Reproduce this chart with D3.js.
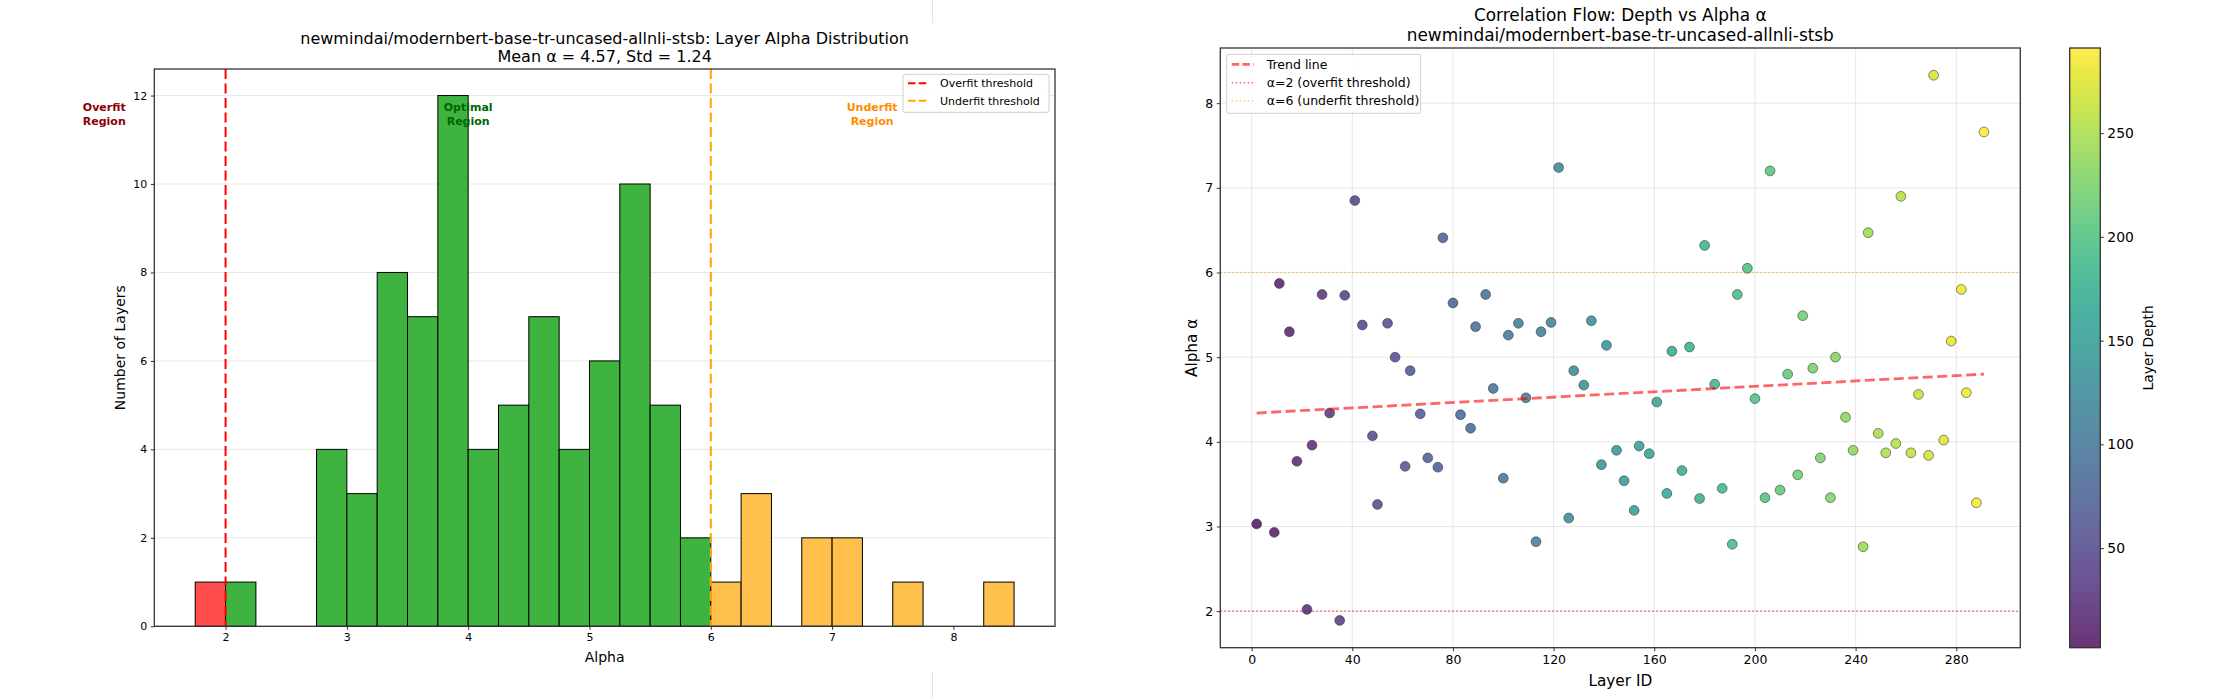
<!DOCTYPE html>
<html>
<head>
<meta charset="utf-8">
<script src="https://cdn.jsdelivr.net/npm/d3@7"></script>
<style>
  body { margin: 0; background: #fff; }
  text { font-family: "DejaVu Sans", sans-serif; fill: #000; }
</style>
</head>
<body>
<svg id="chart" width="2232" height="699"></svg>
<script>
// ---- histogram data (bin lower edges, width 0.25) ----
const binStarts = [1.75, 2.0, 2.25, 2.5, 2.75, 3.0, 3.25, 3.5, 3.75, 4.0, 4.25, 4.5, 4.75,
                   5.0, 5.25, 5.5, 5.75, 6.0, 6.25, 6.5, 6.75, 7.0, 7.25, 7.5, 7.75, 8.0, 8.25];
const binCounts = [1, 1, 0, 0, 4, 3, 8, 7, 12, 4, 5, 7, 4,
                   6, 10, 5, 2, 1, 3, 0, 2, 2, 0, 1, 0, 0, 1];
const binWidth = 0.25;
const alphaTicks = [2, 3, 4, 5, 6, 7, 8];
const countTicks = [0, 2, 4, 6, 8, 10, 12];

// ---- scatter data: layer id vs alpha ----
const layerIds = [2, 9, 11, 15, 18, 22, 24, 28, 31, 35, 37, 41, 44, 48, 50, 54, 57, 61, 63, 67,
                  70, 74, 76, 80, 83, 87, 89, 93, 96, 100, 102, 106, 109, 113, 115, 119, 122, 126, 128, 132,
                  135, 139, 141, 145, 148, 152, 154, 158, 161, 165, 167, 171, 174, 178, 180, 184, 187, 191, 193, 197,
                  200, 204, 206, 210, 213, 217, 219, 223, 226, 230, 232, 236, 239, 243, 245, 249, 252, 256, 258, 262,
                  265, 269, 271, 275, 278, 282, 284, 288, 291];
const layerAlphas = [3.03, 2.93, 5.87, 5.30, 3.77, 2.02, 3.96, 5.74, 4.34, 1.89, 5.73, 6.85, 5.38, 4.07, 3.26, 5.40, 5.00, 3.71, 4.84, 4.33,
                     3.81, 3.70, 6.41, 5.64, 4.32, 4.16, 5.36, 5.74, 4.63, 3.57, 5.26, 5.40, 4.52, 2.82, 5.30, 5.41, 7.24, 3.10, 4.84, 4.67,
                     5.43, 3.73, 5.14, 3.90, 3.54, 3.19, 3.95, 3.86, 4.47, 3.39, 5.07, 3.66, 5.12, 3.33, 6.32, 4.68, 3.45, 2.79, 5.74, 6.05,
                     4.51, 3.34, 7.20, 3.43, 4.80, 3.61, 5.49, 4.87, 3.81, 3.34, 5.00, 4.29, 3.90, 2.76, 6.47, 4.10, 3.87, 3.98, 6.90, 3.87,
                     4.56, 3.84, 8.33, 4.02, 5.19, 5.80, 4.58, 3.28, 7.66];
const trendX = [2, 291];
const trendY = [4.34, 4.80];
const layerTicks = [0, 40, 80, 120, 160, 200, 240, 280];
const alphaTicksR = [2, 3, 4, 5, 6, 7, 8];
const depthTicks = [50, 100, 150, 200, 250];

const svg = d3.select("#chart");
svg.append("rect").attr("width", 2232).attr("height", 699).attr("fill", "#fff");

// faint page separator
svg.append("line").attr("x1", 932.5).attr("x2", 932.5).attr("y1", 0).attr("y2", 23)
  .attr("stroke", "#e4e4e4");
svg.append("line").attr("x1", 932.5).attr("x2", 932.5).attr("y1", 672).attr("y2", 699)
  .attr("stroke", "#e4e4e4");

const spine = "#333";

// ================= LEFT: histogram =================
const L = { x0: 154.3, x1: 1055, y0: 69, y1: 626.3 };
const hx = d3.scaleLinear().domain([1.4125, 8.8375]).range([L.x0, L.x1]);
const hy = d3.scaleLinear().domain([0, 12.6]).range([L.y1, L.y0]);

const left = svg.append("g");

// y grid
left.selectAll("line.grid").data(countTicks).enter().append("line")
  .attr("x1", L.x0).attr("x2", L.x1)
  .attr("y1", d => hy(d)).attr("y2", d => hy(d))
  .attr("stroke", "#b0b0b0").attr("stroke-opacity", 0.3).attr("stroke-width", 1);

const bins = binStarts.map((s, i) => ({ start: s, count: binCounts[i] }));
const binColor = d => d.start < 2 ? "#ff4d4d" : (d.start >= 6 ? "#ffc04d" : "#3fb33f");

left.selectAll("rect.bar").data(bins.filter(d => d.count > 0)).enter().append("rect")
  .attr("x", d => hx(d.start))
  .attr("width", d => hx(d.start + binWidth) - hx(d.start))
  .attr("y", d => hy(d.count))
  .attr("height", d => hy(0) - hy(d.count))
  .attr("fill", binColor)
  .attr("stroke", "#000").attr("stroke-width", 1);

// threshold lines
left.append("line").attr("x1", hx(2)).attr("x2", hx(2)).attr("y1", L.y0).attr("y2", L.y1)
  .attr("stroke", "#ff0000").attr("stroke-width", 2).attr("stroke-dasharray", "10,4.5");
left.append("line").attr("x1", hx(6)).attr("x2", hx(6)).attr("y1", L.y0).attr("y2", L.y1)
  .attr("stroke", "#ffa500").attr("stroke-width", 2).attr("stroke-dasharray", "10,4.5");

// spines
left.append("rect").attr("x", L.x0).attr("y", L.y0)
  .attr("width", L.x1 - L.x0).attr("height", L.y1 - L.y0)
  .attr("fill", "none").attr("stroke", spine).attr("stroke-width", 1.3);

// axes
const hxAxis = left.append("g").attr("transform", `translate(0,${L.y1})`)
  .call(d3.axisBottom(hx).tickValues(alphaTicks).tickFormat(d3.format("d")).tickSize(3.5).tickPadding(3.5));
const hyAxis = left.append("g").attr("transform", `translate(${L.x0},0)`)
  .call(d3.axisLeft(hy).tickValues(countTicks).tickFormat(d3.format("d")).tickSize(3.5).tickPadding(3.5));
[hxAxis, hyAxis].forEach(a => {
  a.select(".domain").remove();
  a.selectAll("line").attr("stroke", spine);
  a.selectAll("text").style("font-size", "11px").style("font-family", "DejaVu Sans").attr("fill", "#000");
});

// region labels
const regions = [
  { x: 1.0, label: ["Overfit", "Region"], color: "#8b0000" },
  { x: 4.0, label: ["Optimal", "Region"], color: "#006400" },
  { x: 7.33, label: ["Underfit", "Region"], color: "#ff8c00" }
];
regions.forEach(r => {
  const t = left.append("text").attr("x", hx(r.x)).attr("y", hy(11.58) - 6.5)
    .attr("text-anchor", "middle").style("font-size", "11px").style("font-weight", "bold")
    .style("fill", r.color);
  r.label.forEach((s, i) => t.append("tspan").attr("x", hx(r.x)).attr("dy", i === 0 ? "0.35em" : 13.3).text(s));
});

// titles and labels
left.append("text").attr("x", (L.x0 + L.x1) / 2).attr("y", 44).attr("text-anchor", "middle")
  .style("font-size", "16px").text("newmindai/modernbert-base-tr-uncased-allnli-stsb: Layer Alpha Distribution");
left.append("text").attr("x", (L.x0 + L.x1) / 2).attr("y", 62).attr("text-anchor", "middle")
  .style("font-size", "16px").text("Mean α = 4.57, Std = 1.24");
left.append("text").attr("x", (L.x0 + L.x1) / 2).attr("y", 661.5).attr("text-anchor", "middle")
  .style("font-size", "14px").text("Alpha");
left.append("text").attr("transform", `translate(125,${(L.y0 + L.y1) / 2}) rotate(-90)`)
  .attr("text-anchor", "middle").style("font-size", "14px").text("Number of Layers");

// legend
const lg = left.append("g").attr("transform", "translate(903,74.3)");
lg.append("rect").attr("width", 146).attr("height", 38).attr("rx", 2)
  .attr("fill", "#fff").attr("fill-opacity", 0.8).attr("stroke", "#d0d0d0");
[{ c: "#ff0000", t: "Overfit threshold" }, { c: "#ffa500", t: "Underfit threshold" }].forEach((e, i) => {
  const y = 9 + i * 17.4;
  lg.append("line").attr("x1", 5).attr("x2", 26).attr("y1", y).attr("y2", y)
    .attr("stroke", e.c).attr("stroke-width", 2).attr("stroke-dasharray", "7.5,3.2");
  lg.append("text").attr("x", 37).attr("y", y).attr("dy", "0.35em").style("font-size", "11px").text(e.t);
});

// ================= RIGHT: scatter =================
const R = { x0: 1220.3, x1: 2020.3, y0: 48, y1: 647.7 };
const sx = d3.scaleLinear().domain([-12.45, 305.45]).range([R.x0, R.x1]);
const sy = d3.scaleLinear().domain([1.568, 8.652]).range([R.y1, R.y0]);
const color = d3.scaleSequential(d3.interpolateViridis).domain([2, 291]);

const right = svg.append("g");

right.selectAll("line.gx").data(layerTicks).enter().append("line")
  .attr("x1", d => sx(d)).attr("x2", d => sx(d)).attr("y1", R.y0).attr("y2", R.y1)
  .attr("stroke", "#b0b0b0").attr("stroke-opacity", 0.3);
right.selectAll("line.gy").data(alphaTicksR).enter().append("line")
  .attr("x1", R.x0).attr("x2", R.x1).attr("y1", d => sy(d)).attr("y2", d => sy(d))
  .attr("stroke", "#b0b0b0").attr("stroke-opacity", 0.3);

// threshold lines
right.append("line").attr("x1", R.x0).attr("x2", R.x1).attr("y1", sy(2)).attr("y2", sy(2))
  .attr("stroke", "#ff0000").attr("stroke-opacity", 0.6).attr("stroke-width", 1.5).attr("stroke-dasharray", "1.5,2.5");
right.append("line").attr("x1", R.x0).attr("x2", R.x1).attr("y1", sy(6)).attr("y2", sy(6))
  .attr("stroke", "#ffa500").attr("stroke-opacity", 0.6).attr("stroke-width", 1.5).attr("stroke-dasharray", "1.5,2.5");

const points = layerIds.map((id, i) => ({ id, a: layerAlphas[i] }));
right.selectAll("circle").data(points).enter().append("circle")
  .attr("cx", d => sx(d.id)).attr("cy", d => sy(d.a)).attr("r", 4.9)
  .attr("fill", d => color(d.id)).attr("fill-opacity", 0.8)
  .attr("stroke", "#333").attr("stroke-opacity", 0.8).attr("stroke-width", 0.7);

// trend line
right.append("line")
  .attr("x1", sx(trendX[0])).attr("y1", sy(trendY[0]))
  .attr("x2", sx(trendX[1])).attr("y2", sy(trendY[1]))
  .attr("stroke", "#ff0000").attr("stroke-opacity", 0.6).attr("stroke-width", 2.8)
  .attr("stroke-dasharray", "10,4.5");

right.append("rect").attr("x", R.x0).attr("y", R.y0)
  .attr("width", R.x1 - R.x0).attr("height", R.y1 - R.y0)
  .attr("fill", "none").attr("stroke", spine).attr("stroke-width", 1.3);

const sxAxis = right.append("g").attr("transform", `translate(0,${R.y1})`)
  .call(d3.axisBottom(sx).tickValues(layerTicks).tickSize(3.5).tickPadding(3.5));
const syAxis = right.append("g").attr("transform", `translate(${R.x0},0)`)
  .call(d3.axisLeft(sy).tickValues(alphaTicksR).tickFormat(d3.format("d")).tickSize(3.5).tickPadding(3.5));
[sxAxis, syAxis].forEach(a => {
  a.select(".domain").remove();
  a.selectAll("line").attr("stroke", spine);
  a.selectAll("text").style("font-size", "12.5px").style("font-family", "DejaVu Sans").attr("fill", "#000");
});

right.append("text").attr("x", (R.x0 + R.x1) / 2).attr("y", 21).attr("text-anchor", "middle")
  .style("font-size", "16.9px").text("Correlation Flow: Depth vs Alpha α");
right.append("text").attr("x", (R.x0 + R.x1) / 2).attr("y", 41).attr("text-anchor", "middle")
  .style("font-size", "16.9px").text("newmindai/modernbert-base-tr-uncased-allnli-stsb");
right.append("text").attr("x", (R.x0 + R.x1) / 2).attr("y", 685.5).attr("text-anchor", "middle")
  .style("font-size", "15.3px").text("Layer ID");
right.append("text").attr("transform", `translate(1197,${(R.y0 + R.y1) / 2}) rotate(-90)`)
  .attr("text-anchor", "middle").style("font-size", "15.3px").text("Alpha α");

// legend
const rl = right.append("g").attr("transform", "translate(1226.7,54.3)");
rl.append("rect").attr("width", 194).attr("height", 59).attr("rx", 2)
  .attr("fill", "#fff").attr("fill-opacity", 0.8).attr("stroke", "#d0d0d0");
[
  { c: "#ff0000", t: "Trend line", dash: "7.5,3.2", w: 2.8, op: 0.6 },
  { c: "#ff0000", t: "α=2 (overfit threshold)", dash: "1.5,2.5", w: 1.5, op: 0.6 },
  { c: "#ffa500", t: "α=6 (underfit threshold)", dash: "1.5,2.5", w: 1.5, op: 0.6 }
].forEach((e, i) => {
  const y = 10 + i * 18.4;
  rl.append("line").attr("x1", 5).attr("x2", 27).attr("y1", y).attr("y2", y)
    .attr("stroke", e.c).attr("stroke-opacity", e.op).attr("stroke-width", e.w).attr("stroke-dasharray", e.dash);
  rl.append("text").attr("x", 40).attr("y", y).attr("dy", "0.35em").style("font-size", "12.5px").text(e.t);
});

// colorbar
const C = { x0: 2069.7, x1: 2100.3, y0: 48, y1: 647.7 };
const cy = d3.scaleLinear().domain([2, 291]).range([C.y1, C.y0]);
const grad = svg.append("defs").append("linearGradient").attr("id", "viridis")
  .attr("x1", 0).attr("y1", 1).attr("x2", 0).attr("y2", 0);
d3.range(0, 1.0001, 0.05).forEach(t => {
  grad.append("stop").attr("offset", t).attr("stop-color", d3.interpolateViridis(t));
});
svg.append("rect").attr("x", C.x0).attr("y", C.y0).attr("width", C.x1 - C.x0).attr("height", C.y1 - C.y0)
  .attr("fill", "url(#viridis)").attr("fill-opacity", 0.8);
svg.append("rect").attr("x", C.x0).attr("y", C.y0).attr("width", C.x1 - C.x0).attr("height", C.y1 - C.y0)
  .attr("fill", "none").attr("stroke", spine).attr("stroke-width", 1.3);
const cAxis = svg.append("g").attr("transform", `translate(${C.x1},0)`)
  .call(d3.axisRight(cy).tickValues(depthTicks).tickSize(3.5).tickPadding(3.5));
cAxis.select(".domain").remove();
cAxis.selectAll("line").attr("stroke", spine);
cAxis.selectAll("text").style("font-size", "13.9px").style("font-family", "DejaVu Sans").attr("fill", "#000");
svg.append("text").attr("transform", `translate(2153,${(C.y0 + C.y1) / 2}) rotate(-90)`)
  .attr("text-anchor", "middle").style("font-size", "13.9px").text("Layer Depth");
</script>
</body>
</html>
